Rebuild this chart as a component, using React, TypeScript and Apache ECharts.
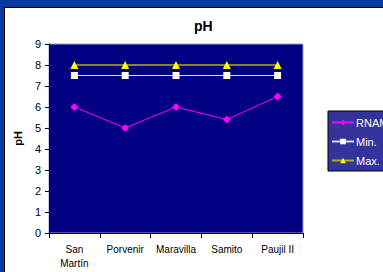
import React, { useEffect, useRef } from "react";
import * as echarts from "echarts";

const categories = ["San\nMartín", "Porvenir", "Maravilla", "Samito", "Paujil II"];
const rnam = [6, 5, 6, 5.4, 6.5];
const minVals = [7.5, 7.5, 7.5, 7.5, 7.5];
const maxVals = [8, 8, 8, 8, 8];
const yTicks = { min: 0, max: 9, interval: 1 };

const FONT = "Liberation Sans, Arial, sans-serif";

export default function App() {
  const ref = useRef<HTMLDivElement>(null);
  useEffect(() => {
    if (!ref.current) return;
    const chart = echarts.init(ref.current, null, { renderer: "svg" });
    chart.setOption({
      animation: false,
      backgroundColor: "#0a3a9c",
      graphic: [
        { type: "rect", shape: { x: 4, y: 7, width: 400, height: 300 }, style: { fill: "#000" }, silent: true, z: -10 },
        { type: "rect", shape: { x: 5, y: 8, width: 400, height: 300 }, style: { fill: "#fff" }, silent: true, z: -9 },
      ],
      title: {
        text: "pH",
        left: 194,
        top: 19,
        padding: 0,
        textStyle: { fontFamily: FONT, fontSize: 14, fontWeight: "bold", color: "#000" },
      },
      grid: {
        left: 49,
        top: 44,
        width: 254,
        height: 189,
        show: true,
        backgroundColor: "#000080",
        borderColor: "#a0a0d0",
        borderWidth: 1,
      },
      legend: {
        orient: "vertical",
        left: 328,
        top: 111,
        backgroundColor: "#333399",
        borderColor: "#000",
        borderWidth: 1,
        padding: [6, 8, 5, 3],
        itemGap: 8,
        itemWidth: 22,
        itemHeight: 7,
        textStyle: { color: "#fff", fontFamily: FONT, fontSize: 11, padding: [0, 0, 0, -3] },
        data: ["RNAM", "Min.", "Max."],
      },
      xAxis: {
        type: "category",
        data: categories,
        boundaryGap: true,
        axisLine: { lineStyle: { color: "#000", width: 1 } },
        axisTick: { show: true, interval: 0, length: 5, lineStyle: { color: "#000" } },
        axisLabel: { color: "#000", fontFamily: FONT, fontSize: 10, margin: 9, lineHeight: 14, interval: 0 },
      },
      yAxis: {
        type: "value",
        min: yTicks.min,
        max: yTicks.max,
        interval: yTicks.interval,
        name: "pH",
        nameLocation: "middle",
        nameGap: 20,
        nameRotate: 90,
        nameTextStyle: { color: "#000", fontFamily: FONT, fontSize: 11, fontWeight: "bold" },
        axisLine: { show: true, lineStyle: { color: "#000", width: 1 } },
        axisTick: { show: true, length: 4, lineStyle: { color: "#000" } },
        axisLabel: { color: "#000", fontFamily: FONT, fontSize: 11, margin: 8 },
        splitLine: { show: false },
      },
      series: [
        {
          name: "RNAM",
          type: "line",
          data: rnam,
          symbol: "diamond",
          symbolSize: 8,
          lineStyle: { color: "#ff00ff", width: 1 },
          itemStyle: { color: "#ff00ff" },
        },
        {
          name: "Min.",
          type: "line",
          data: minVals,
          symbol: "rect",
          symbolSize: 7,
          lineStyle: { color: "#d8d8ff", width: 1 },
          itemStyle: { color: "#ffffff" },
        },
        {
          name: "Max.",
          type: "line",
          data: maxVals,
          symbol: "triangle",
          symbolSize: 8,
          lineStyle: { color: "#b0b000", width: 1.5 },
          itemStyle: { color: "#ffff00" },
        },
      ],
    });
    return () => chart.dispose();
  }, []);
  return (
    <div
      ref={ref}
      style={{ position: "fixed", left: 0, top: 0, width: 383, height: 272 }}
    />
  );
}
